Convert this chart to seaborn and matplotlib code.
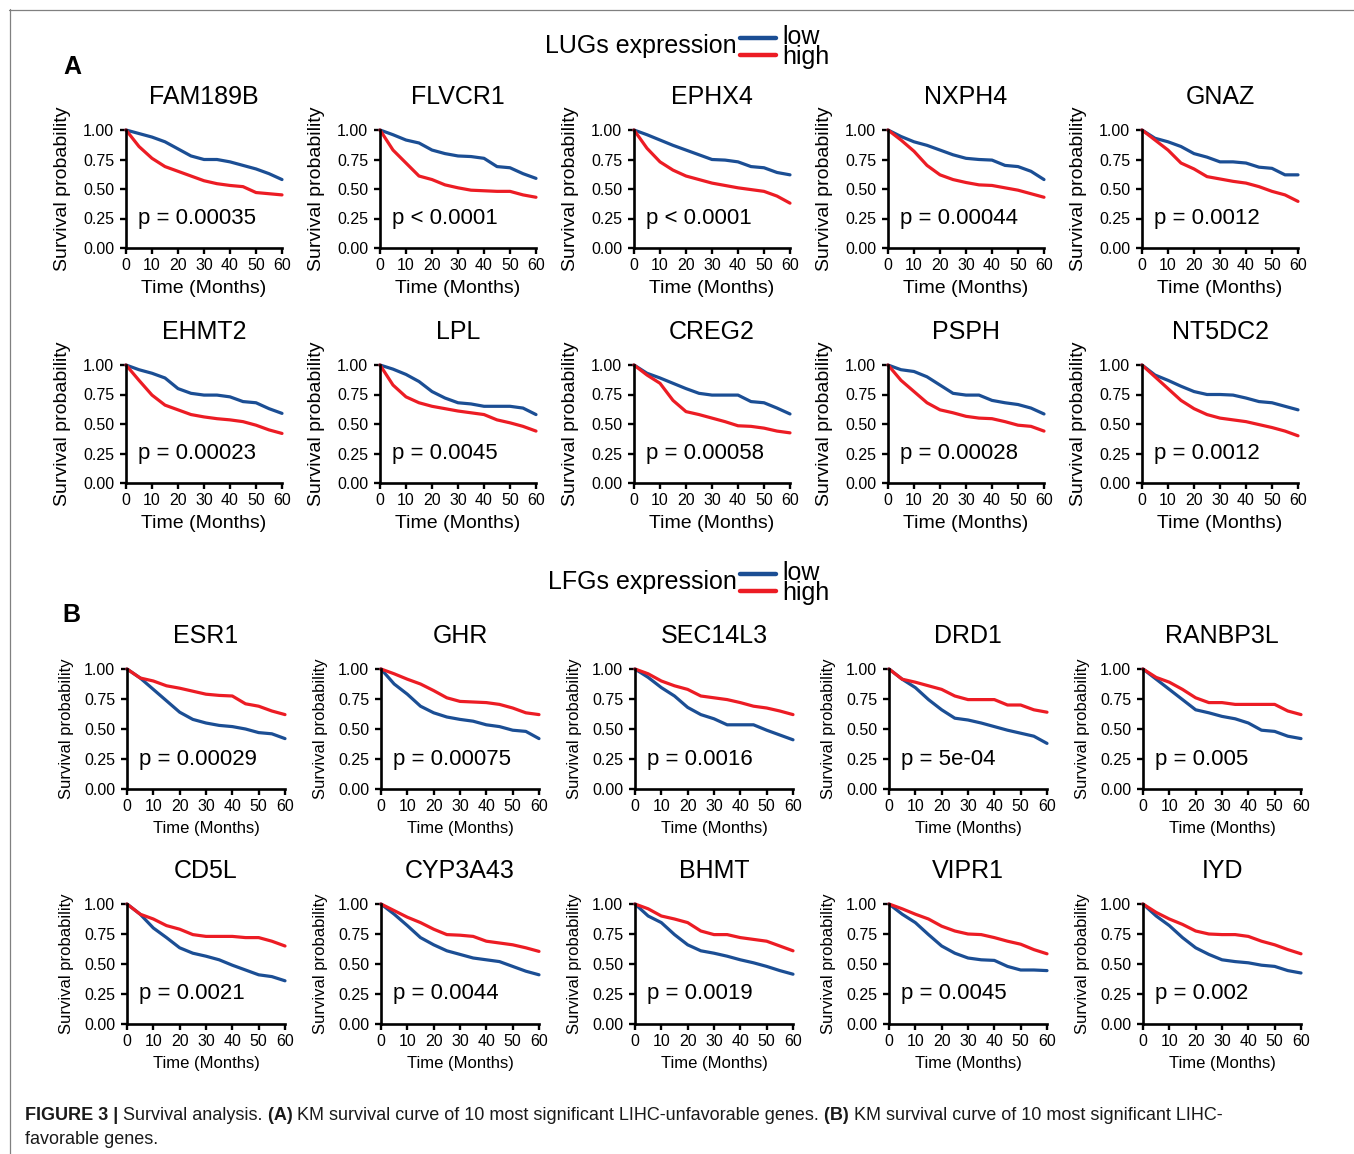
import numpy as np
import pandas as pd
import matplotlib
matplotlib.use("Agg")
import matplotlib.pyplot as plt
from matplotlib.lines import Line2D
import seaborn as sns

# ---------------- data ----------------
months = [0, 5, 10, 15, 20, 25, 30, 35, 40, 45, 50, 55, 60]
x_ticks = [0, 10, 20, 30, 40, 50, 60]
y_ticks = [0.00, 0.25, 0.50, 0.75, 1.00]

lug_genes = ["FAM189B", "FLVCR1", "EPHX4", "NXPH4", "GNAZ",
             "EHMT2", "LPL", "CREG2", "PSPH", "NT5DC2"]
lug_pvals = ["p = 0.00035", "p < 0.0001", "p < 0.0001", "p = 0.00044", "p = 0.0012",
             "p = 0.00023", "p = 0.0045", "p = 0.00058", "p = 0.00028", "p = 0.0012"]

lfg_genes = ["ESR1", "GHR", "SEC14L3", "DRD1", "RANBP3L",
             "CD5L", "CYP3A43", "BHMT", "VIPR1", "IYD"]
lfg_pvals = ["p = 0.00029", "p = 0.00075", "p = 0.0016", "p = 5e-04", "p = 0.005",
             "p = 0.0021", "p = 0.0044", "p = 0.0019", "p = 0.0045", "p = 0.002"]

# survival probability at each month, low / high expression
FAM189B_low  = [1.0, 0.97, 0.94, 0.90, 0.84, 0.78, 0.75, 0.75, 0.73, 0.70, 0.67, 0.63, 0.58]
FAM189B_high = [1.0, 0.86, 0.76, 0.69, 0.65, 0.61, 0.57, 0.545, 0.53, 0.52, 0.47, 0.46, 0.45]
FLVCR1_low   = [1.0, 0.96, 0.915, 0.89, 0.83, 0.80, 0.78, 0.775, 0.76, 0.69, 0.68, 0.63, 0.59]
FLVCR1_high  = [1.0, 0.83, 0.72, 0.61, 0.58, 0.535, 0.51, 0.49, 0.485, 0.48, 0.48, 0.45, 0.43]
EPHX4_low    = [1.0, 0.96, 0.915, 0.87, 0.83, 0.79, 0.75, 0.745, 0.73, 0.69, 0.68, 0.64, 0.62]
EPHX4_high   = [1.0, 0.845, 0.73, 0.66, 0.61, 0.58, 0.55, 0.53, 0.51, 0.495, 0.48, 0.44, 0.38]
NXPH4_low    = [1.0, 0.945, 0.90, 0.87, 0.83, 0.79, 0.76, 0.75, 0.745, 0.70, 0.69, 0.65, 0.58]
NXPH4_high   = [1.0, 0.915, 0.82, 0.70, 0.62, 0.58, 0.555, 0.535, 0.53, 0.51, 0.49, 0.46, 0.43]
GNAZ_low     = [1.0, 0.93, 0.90, 0.86, 0.80, 0.77, 0.73, 0.73, 0.72, 0.685, 0.675, 0.62, 0.62]
GNAZ_high    = [1.0, 0.915, 0.83, 0.72, 0.67, 0.605, 0.585, 0.565, 0.55, 0.52, 0.48, 0.45, 0.395]
EHMT2_low    = [1.0, 0.96, 0.93, 0.89, 0.80, 0.76, 0.745, 0.745, 0.73, 0.69, 0.68, 0.63, 0.59]
EHMT2_high   = [1.0, 0.87, 0.745, 0.66, 0.62, 0.58, 0.56, 0.545, 0.535, 0.52, 0.49, 0.45, 0.42]
LPL_low      = [1.0, 0.965, 0.92, 0.86, 0.775, 0.72, 0.68, 0.67, 0.65, 0.65, 0.65, 0.635, 0.58]
LPL_high     = [1.0, 0.83, 0.73, 0.68, 0.65, 0.63, 0.61, 0.595, 0.58, 0.535, 0.51, 0.48, 0.44]
CREG2_low    = [1.0, 0.93, 0.89, 0.845, 0.80, 0.76, 0.745, 0.745, 0.745, 0.69, 0.68, 0.635, 0.585]
CREG2_high   = [1.0, 0.915, 0.845, 0.70, 0.605, 0.58, 0.55, 0.52, 0.485, 0.48, 0.465, 0.44, 0.425]
PSPH_low     = [1.0, 0.96, 0.945, 0.90, 0.83, 0.76, 0.745, 0.745, 0.70, 0.68, 0.665, 0.635, 0.585]
PSPH_high    = [1.0, 0.87, 0.775, 0.68, 0.62, 0.595, 0.565, 0.55, 0.545, 0.52, 0.49, 0.48, 0.44]
NT5DC2_low   = [1.0, 0.915, 0.87, 0.82, 0.775, 0.75, 0.75, 0.745, 0.72, 0.69, 0.68, 0.65, 0.62]
NT5DC2_high  = [1.0, 0.90, 0.80, 0.70, 0.63, 0.58, 0.55, 0.535, 0.52, 0.495, 0.47, 0.44, 0.40]

ESR1_low     = [1.0, 0.925, 0.83, 0.735, 0.64, 0.58, 0.55, 0.53, 0.52, 0.50, 0.47, 0.46, 0.42]
ESR1_high    = [1.0, 0.925, 0.90, 0.86, 0.84, 0.815, 0.79, 0.78, 0.775, 0.71, 0.69, 0.65, 0.62]
GHR_low      = [1.0, 0.875, 0.79, 0.69, 0.635, 0.60, 0.58, 0.565, 0.535, 0.52, 0.49, 0.48, 0.42]
GHR_high     = [1.0, 0.96, 0.915, 0.875, 0.82, 0.76, 0.73, 0.725, 0.72, 0.705, 0.675, 0.635, 0.62]
SEC14L3_low  = [1.0, 0.93, 0.845, 0.775, 0.68, 0.62, 0.585, 0.535, 0.535, 0.535, 0.49, 0.45, 0.41]
SEC14L3_high = [1.0, 0.96, 0.90, 0.86, 0.83, 0.775, 0.76, 0.745, 0.72, 0.69, 0.675, 0.65, 0.62]
DRD1_low     = [1.0, 0.915, 0.845, 0.745, 0.66, 0.59, 0.575, 0.55, 0.52, 0.49, 0.465, 0.44, 0.38]
DRD1_high    = [1.0, 0.915, 0.89, 0.86, 0.83, 0.775, 0.745, 0.745, 0.745, 0.70, 0.70, 0.66, 0.64]
RANBP3L_low  = [1.0, 0.915, 0.83, 0.745, 0.66, 0.635, 0.605, 0.585, 0.55, 0.49, 0.48, 0.44, 0.42]
RANBP3L_high = [1.0, 0.93, 0.89, 0.83, 0.76, 0.72, 0.72, 0.705, 0.705, 0.705, 0.705, 0.65, 0.62]
CD5L_low     = [1.0, 0.915, 0.80, 0.72, 0.635, 0.59, 0.565, 0.535, 0.49, 0.45, 0.41, 0.395, 0.36]
CD5L_high    = [1.0, 0.915, 0.875, 0.82, 0.79, 0.745, 0.73, 0.73, 0.73, 0.72, 0.72, 0.69, 0.65]
CYP3A43_low  = [1.0, 0.915, 0.82, 0.72, 0.66, 0.61, 0.58, 0.55, 0.535, 0.52, 0.48, 0.44, 0.41]
CYP3A43_high = [1.0, 0.945, 0.89, 0.845, 0.79, 0.745, 0.74, 0.73, 0.69, 0.675, 0.66, 0.635, 0.605]
BHMT_low     = [1.0, 0.90, 0.845, 0.745, 0.66, 0.61, 0.59, 0.565, 0.535, 0.51, 0.48, 0.445, 0.415]
BHMT_high    = [1.0, 0.96, 0.90, 0.875, 0.845, 0.775, 0.745, 0.745, 0.72, 0.705, 0.69, 0.65, 0.61]
VIPR1_low    = [1.0, 0.915, 0.845, 0.745, 0.65, 0.59, 0.55, 0.535, 0.53, 0.48, 0.45, 0.45, 0.445]
VIPR1_high   = [1.0, 0.96, 0.915, 0.875, 0.815, 0.775, 0.75, 0.745, 0.72, 0.69, 0.665, 0.62, 0.585]
IYD_low      = [1.0, 0.90, 0.82, 0.72, 0.635, 0.58, 0.535, 0.52, 0.51, 0.49, 0.48, 0.445, 0.425]
IYD_high     = [1.0, 0.93, 0.875, 0.83, 0.775, 0.75, 0.745, 0.745, 0.73, 0.69, 0.66, 0.62, 0.585]

lug_low = [FAM189B_low, FLVCR1_low, EPHX4_low, NXPH4_low, GNAZ_low,
           EHMT2_low, LPL_low, CREG2_low, PSPH_low, NT5DC2_low]
lug_high = [FAM189B_high, FLVCR1_high, EPHX4_high, NXPH4_high, GNAZ_high,
            EHMT2_high, LPL_high, CREG2_high, PSPH_high, NT5DC2_high]
lfg_low = [ESR1_low, GHR_low, SEC14L3_low, DRD1_low, RANBP3L_low,
           CD5L_low, CYP3A43_low, BHMT_low, VIPR1_low, IYD_low]
lfg_high = [ESR1_high, GHR_high, SEC14L3_high, DRD1_high, RANBP3L_high,
            CD5L_high, CYP3A43_high, BHMT_high, VIPR1_high, IYD_high]

groups = ["low", "high"]
BLUE = "#1B4E94"
RED = "#EC1C24"
palette = {"low": BLUE, "high": RED}

# ---------------- figure ----------------
sns.set_theme(style="ticks")
plt.rcParams["font.family"] = ["Liberation Sans", "DejaVu Sans"]
for key in ["text.color", "axes.labelcolor", "xtick.color", "ytick.color", "axes.edgecolor"]:
    plt.rcParams[key] = "black"
W, H = 1354, 1154
fig = plt.figure(figsize=(W / 100, H / 100), dpi=100)
fig.patch.set_facecolor("white")


def fx(px):
    return px / W


def fy(py):
    return 1 - py / H


def panel(left, top, width, height, low, high, gene, pval, small):
    ax = fig.add_axes([fx(left), fy(top + height), width / W, height / H])
    df = pd.DataFrame({
        "Time": months + months,
        "Survival": list(low) + list(high),
        "group": ["low"] * len(months) + ["high"] * len(months),
    })
    sns.lineplot(data=df, x="Time", y="Survival", hue="group", hue_order=groups,
                 palette=palette, estimator=None, legend=False, ax=ax,
                 linewidth=2.3, clip_on=False)
    ax.set_xlim(0, 60)
    ax.set_ylim(0, 1)
    ax.set_xticks(x_ticks)
    ax.set_yticks(y_ticks)
    ax.set_yticklabels([f"{v:.2f}" for v in y_ticks])
    for s in ["top", "right"]:
        ax.spines[s].set_visible(False)
    for s in ["left", "bottom"]:
        ax.spines[s].set_linewidth(1.9)
        ax.spines[s].set_color("black")
    ax.tick_params(axis="both", direction="out", length=4.5, width=1.7,
                   colors="black", labelsize=11.5)
    ax.tick_params(axis="y", pad=4)
    ax.tick_params(axis="x", pad=3)
    if small:
        ax.set_xlabel("Time (Months)", fontsize=12, labelpad=5)
        ax.set_ylabel("Survival probability", fontsize=12, labelpad=7.5)
    else:
        ax.set_xlabel("Time (Months)", fontsize=14, labelpad=5)
        ax.set_ylabel("Survival probability", fontsize=14, labelpad=9)
    ax.set_title(gene, fontsize=18, pad=19)
    ax.text(4.5, 0.25, pval, fontsize=16, va="center", ha="left")
    ax.set_facecolor("white")
    return ax


a_lefts = [126, 380, 634, 888, 1142]
b_lefts = [127, 381, 635, 889, 1143]
a_tops = [130, 365]
b_tops = [669, 904]

for i in range(10):
    r, c = divmod(i, 5)
    panel(a_lefts[c], a_tops[r], 156, 118, lug_low[i], lug_high[i],
          lug_genes[i], lug_pvals[i], small=False)
    panel(b_lefts[c], b_tops[r], 158, 120, lfg_low[i], lfg_high[i],
          lfg_genes[i], lfg_pvals[i], small=True)


def legend(title, y_center):
    fig.text(fx(737), fy(y_center + 1), title, fontsize=18, ha="right", va="center")
    fig.add_artist(Line2D([fx(740), fx(776)], [fy(y_center - 7), fy(y_center - 7)],
                          color=BLUE, linewidth=3.2))
    fig.add_artist(Line2D([fx(740), fx(776)], [fy(y_center + 10), fy(y_center + 10)],
                          color=RED, linewidth=3.2))
    fig.text(fx(782), fy(y_center + 2), "low\nhigh", fontsize=18, ha="left",
             va="center", linespacing=0.78)


legend("LUGs expression", 45)
legend("LFGs expression", 581)

fig.text(fx(63), fy(67), "A", fontsize=18, fontweight="bold", ha="left", va="center")
fig.text(fx(62), fy(615), "B", fontsize=18, fontweight="bold", ha="left", va="center")

# frame lines (top and left)
fig.add_artist(Line2D([fx(9), fx(W)], [fy(9.5), fy(9.5)], color="#808080", linewidth=0.9))
fig.add_artist(Line2D([fx(9.5), fx(9.5)], [fy(9), fy(H)], color="#808080", linewidth=0.9))

# caption with mixed bold
renderer = fig.canvas.get_renderer()


def rich_line(x_px, y_px, parts, size=13):
    x = x_px
    for txt, bold in parts:
        t = fig.text(fx(x), fy(y_px), txt, fontsize=size,
                     fontweight="bold" if bold else "normal",
                     ha="left", va="center", color="#1a1a1a")
        bb = t.get_window_extent(renderer)
        x += bb.width


rich_line(25, 1115, [("FIGURE 3 | ", True), ("Survival analysis. ", False), ("(A) ", True),
                     ("KM survival curve of 10 most significant LIHC-unfavorable genes. ", False),
                     ("(B) ", True), ("KM survival curve of 10 most significant LIHC-", False)])
rich_line(25, 1140, [("favorable genes.", False)])

fig.savefig("out.png", dpi=100, facecolor="white")
